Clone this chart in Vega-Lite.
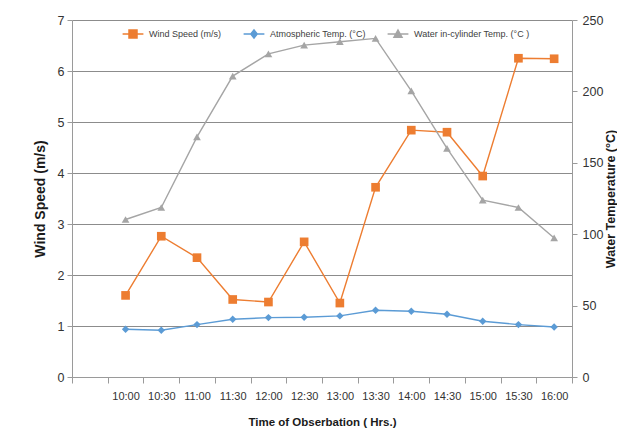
{
  "$schema": "https://vega.github.io/schema/vega-lite/v6.json",
  "width": 500,
  "height": 357,
  "autosize": {"type": "none"},
  "padding": {"left": 72, "top": 20, "right": 45, "bottom": 64},
  "background": "white",
  "config": {
    "view": {"stroke": null},
    "font": "Liberation Sans",
    "axis": {
      "labelFont": "Liberation Sans",
      "labelColor": "#333333",
      "titleColor": "#1a1a1a",
      "domainColor": "#9a9a9a",
      "tickColor": "#9a9a9a",
      "tickSize": 5
    }
  },
  "data": {
    "values": [
      {"time": "10:00", "series": "Wind Speed (m/s)", "value": 1.60},
      {"time": "10:30", "series": "Wind Speed (m/s)", "value": 2.76},
      {"time": "11:00", "series": "Wind Speed (m/s)", "value": 2.34},
      {"time": "11:30", "series": "Wind Speed (m/s)", "value": 1.52},
      {"time": "12:00", "series": "Wind Speed (m/s)", "value": 1.47},
      {"time": "12:30", "series": "Wind Speed (m/s)", "value": 2.65},
      {"time": "13:00", "series": "Wind Speed (m/s)", "value": 1.45},
      {"time": "13:30", "series": "Wind Speed (m/s)", "value": 3.72},
      {"time": "14:00", "series": "Wind Speed (m/s)", "value": 4.84},
      {"time": "14:30", "series": "Wind Speed (m/s)", "value": 4.80},
      {"time": "15:00", "series": "Wind Speed (m/s)", "value": 3.94},
      {"time": "15:30", "series": "Wind Speed (m/s)", "value": 6.25},
      {"time": "16:00", "series": "Wind Speed (m/s)", "value": 6.24},
      {"time": "10:00", "series": "Atmospheric Temp. (°C)", "value": 33.4},
      {"time": "10:30", "series": "Atmospheric Temp. (°C)", "value": 32.7},
      {"time": "11:00", "series": "Atmospheric Temp. (°C)", "value": 36.7},
      {"time": "11:30", "series": "Atmospheric Temp. (°C)", "value": 40.4},
      {"time": "12:00", "series": "Atmospheric Temp. (°C)", "value": 41.6},
      {"time": "12:30", "series": "Atmospheric Temp. (°C)", "value": 41.8},
      {"time": "13:00", "series": "Atmospheric Temp. (°C)", "value": 42.8},
      {"time": "13:30", "series": "Atmospheric Temp. (°C)", "value": 46.7},
      {"time": "14:00", "series": "Atmospheric Temp. (°C)", "value": 46.0},
      {"time": "14:30", "series": "Atmospheric Temp. (°C)", "value": 43.9},
      {"time": "15:00", "series": "Atmospheric Temp. (°C)", "value": 39.0},
      {"time": "15:30", "series": "Atmospheric Temp. (°C)", "value": 36.7},
      {"time": "16:00", "series": "Atmospheric Temp. (°C)", "value": 35.0},
      {"time": "10:00", "series": "Water in-cylinder Temp. (°C )", "value": 110.3},
      {"time": "10:30", "series": "Water in-cylinder Temp. (°C )", "value": 118.7},
      {"time": "11:00", "series": "Water in-cylinder Temp. (°C )", "value": 168.2},
      {"time": "11:30", "series": "Water in-cylinder Temp. (°C )", "value": 210.7},
      {"time": "12:00", "series": "Water in-cylinder Temp. (°C )", "value": 226.3},
      {"time": "12:30", "series": "Water in-cylinder Temp. (°C )", "value": 232.4},
      {"time": "13:00", "series": "Water in-cylinder Temp. (°C )", "value": 234.8},
      {"time": "13:30", "series": "Water in-cylinder Temp. (°C )", "value": 237.1},
      {"time": "14:00", "series": "Water in-cylinder Temp. (°C )", "value": 200.4},
      {"time": "14:30", "series": "Water in-cylinder Temp. (°C )", "value": 160.1},
      {"time": "15:00", "series": "Water in-cylinder Temp. (°C )", "value": 123.8},
      {"time": "15:30", "series": "Water in-cylinder Temp. (°C )", "value": 118.7},
      {"time": "16:00", "series": "Water in-cylinder Temp. (°C )", "value": 97.4}
    ]
  },
  "encoding": {
    "x": {
      "field": "time",
      "type": "ordinal",
      "bandPosition": 0.5,
      "scale": {
        "type": "band",
        "domain": ["", "10:00", "10:30", "11:00", "11:30", "12:00", "12:30", "13:00", "13:30", "14:00", "14:30", "15:00", "15:30", "16:00"],
        "paddingInner": 0,
        "paddingOuter": 0
      },
      "axis": {
        "title": "Time of Obserbation ( Hrs.)",
        "titleFont": "Liberation Sans",
        "titleFontWeight": "bold",
        "titleFontSize": 11.5,
        "titlePadding": 15,
        "labelAngle": 0,
        "labelFontSize": 11,
        "labelPadding": 7,
        "tickBand": "extent",
        "tickSize": 6,
        "grid": false
      }
    },
    "color": {
      "field": "series",
      "type": "nominal",
      "scale": {
        "domain": ["Wind Speed (m/s)", "Atmospheric Temp. (°C)", "Water in-cylinder Temp. (°C )"],
        "range": ["#ED7D31", "#5B9BD5", "#A5A5A5"]
      },
      "legend": {
        "title": null,
        "orient": "none",
        "direction": "horizontal",
        "legendX": 56,
        "legendY": 9,
        "padding": 0,
        "gridAlign": "none",
        "symbolSize": 64,
        "symbolStrokeWidth": 1.5,
        "labelFont": "Liberation Sans",
        "labelFontSize": 9,
        "labelColor": "#404040",
        "labelOffset": 11,
        "columnPadding": 18,
        "labelLimit": 200,
        "encode": {
          "symbols": {
            "update": {
              "shape": {"signal": "datum.value == 'Wind Speed (m/s)' ? 'M-2.6,0H2.6M-1,-1H1V1H-1Z' : datum.value == 'Atmospheric Temp. (°C)' ? 'M-2.6,0H2.6M0,-1L0.8,0L0,1L-0.8,0Z' : 'M-2.6,0H2.6M0,-1L1,0.8H-1Z'"},
              "fill": {"signal": "scale('color', datum.value)"},
              "stroke": {"signal": "scale('color', datum.value)"},
              "strokeWidth": {"value": 1.5},
              "opacity": {"value": 1}
            }
          }
        }
      }
    }
  },
  "layer": [
    {
      "transform": [{"filter": "datum.series == 'Wind Speed (m/s)'"}],
      "encoding": {
        "y": {
          "field": "value",
          "type": "quantitative",
          "scale": {"domain": [0, 7], "nice": false, "zero": true},
          "axis": {
            "orient": "left",
            "title": "Wind Speed (m/s)",
            "titleFont": "Liberation Sans",
            "titleFontWeight": "bold",
            "titleFontSize": 14,
            "titlePadding": 10,
            "values": [0, 1, 2, 3, 4, 5, 6, 7],
            "labelFontSize": 12.5,
            "labelPadding": 3,
            "grid": true,
            "gridColor": "#8c8c8c",
            "gridWidth": 1.2
          }
        }
      },
      "layer": [
        {"mark": {"type": "line", "strokeWidth": 1.4}},
        {"mark": {"type": "point", "shape": "square", "filled": true, "opacity": 1, "size": 75}}
      ]
    },
    {
      "encoding": {
        "y": {
          "field": "value",
          "type": "quantitative",
          "scale": {"domain": [0, 250], "nice": false, "zero": true},
          "axis": {
            "orient": "right",
            "title": "Water Temperature (°C)",
            "titleFont": "Liberation Sans",
            "titleFontWeight": "bold",
            "titleFontSize": 12.5,
            "titleAngle": 270,
            "titleBaseline": "top",
            "titlePadding": 2,
            "values": [0, 50, 100, 150, 200, 250],
            "labelFontSize": 12.5,
            "labelPadding": 5,
            "grid": false
          }
        }
      },
      "layer": [
        {
          "transform": [{"filter": "datum.series != 'Wind Speed (m/s)'"}],
          "mark": {"type": "line", "strokeWidth": 1.4}
        },
        {
          "transform": [{"filter": "datum.series == 'Atmospheric Temp. (°C)'"}],
          "mark": {"type": "point", "shape": "diamond", "filled": true, "opacity": 1, "size": 55}
        },
        {
          "transform": [{"filter": "datum.series == 'Water in-cylinder Temp. (°C )'"}],
          "mark": {"type": "point", "shape": "triangle-up", "filled": true, "opacity": 1, "size": 60}
        }
      ]
    }
  ],
  "resolve": {"scale": {"y": "independent"}}
}
